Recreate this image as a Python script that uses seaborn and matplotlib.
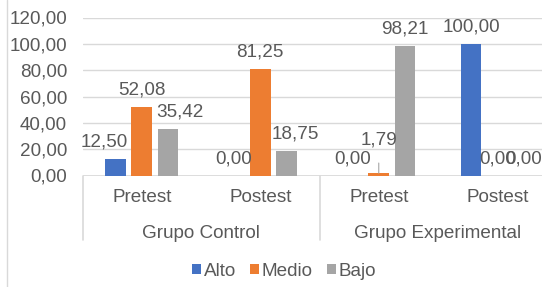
import matplotlib
matplotlib.use('Agg')
import matplotlib.pyplot as plt
import matplotlib.transforms as mtransforms
from matplotlib.lines import Line2D
from matplotlib.patches import Patch
import seaborn as sns
import pandas as pd

# ---- data ----
grupos = ['Grupo Control', 'Grupo Control', 'Grupo Experimental', 'Grupo Experimental']
momentos = ['Pretest', 'Postest', 'Pretest', 'Postest']
niveles = ['Alto', 'Medio', 'Bajo']
alto = [12.50, 0.00, 0.00, 100.00]
medio = [52.08, 81.25, 1.79, 0.00]
bajo = [35.42, 18.75, 98.21, 0.00]
yticks = [0, 20, 40, 60, 80, 100, 120]

# ---- styles ----
colores = ['#4472C4', '#ED7D31', '#A5A5A5']
txt = '#595959'
grid = '#D9D9D9'
FS = 13.6

cats = [f'{g}|{m}' for g, m in zip(grupos, momentos)]
rows = []
for nivel, vals in zip(niveles, [alto, medio, bajo]):
    for c, v in zip(cats, vals):
        rows.append({'cat': c, 'nivel': nivel, 'valor': v})
df = pd.DataFrame(rows)

sns.set_theme(style='white')
plt.rcParams['font.family'] = ['Liberation Sans', 'DejaVu Sans']

W, H = 542, 287
fig = plt.figure(figsize=(W / 100, H / 100), dpi=100)
fig.patch.set_facecolor('white')
left, right, bottom, top = 82.5, 556.5, 175.5, 17.5
ax = fig.add_axes([left / W, 1 - bottom / H, (right - left) / W, (bottom - top) / H])

sns.barplot(data=df, x='cat', y='valor', hue='nivel', order=cats, hue_order=niveles,
            palette=colores, width=0.666, gap=0.22, ax=ax, legend=False,
            linewidth=0, errorbar=None, saturation=1)

ax.set_xlim(-0.5, 3.5)
ax.set_ylim(0, 120)
ax.set_yticks(yticks)
ax.set_yticklabels([f'{v:.2f}'.replace('.', ',') for v in yticks], fontsize=FS, color=txt)
ax.yaxis.grid(True, color=grid, linewidth=1.0)
ax.set_axisbelow(True)
for s in ax.spines.values():
    s.set_visible(False)
ax.axhline(0, color=grid, linewidth=1.2, zorder=0.5)
ax.tick_params(axis='y', length=0, pad=11)
ax.tick_params(axis='x', length=0, pad=10)
ax.set_xticks(range(len(cats)))
ax.set_xticklabels(momentos, fontsize=FS, color=txt)
ax.set_xlabel('')
ax.set_ylabel('')

# group labels and separators
tr = mtransforms.blended_transform_factory(ax.transData, fig.transFigure)
ug = []
for g in grupos:
    if g not in ug:
        ug.append(g)
for g in ug:
    idx = [i for i, gg in enumerate(grupos) if gg == g]
    xc = sum(idx) / len(idx)
    fig.text(xc, 1 - 233 / H, g, transform=tr, fontsize=FS, color=txt,
             ha='center', va='center')
bounds = [-0.5]
for i in range(1, len(grupos)):
    if grupos[i] != grupos[i - 1]:
        bounds.append(i - 0.5)
bounds.append(len(grupos) - 0.5)
for b in bounds:
    fig.add_artist(Line2D([b, b], [1 - bottom / H, 1 - 240 / H], transform=tr,
                          color=grid, linewidth=1.2))

# data labels
# label x-offsets (pixels), mimicking Excel's overlap avoidance
dx = {('Alto', 0): -11.5, ('Bajo', 0): 12, ('Bajo', 1): 9}
for hi, (nivel, vals) in enumerate(zip(niveles, [alto, medio, bajo])):
    cont = ax.containers[hi]
    for ci, (bar, v) in enumerate(zip(cont, vals)):
        xb = bar.get_x() + bar.get_width() / 2
        lab = f'{v:.2f}'.replace('.', ',')
        if nivel == 'Medio' and 0 < v < 5:
            ax.annotate(lab, xy=(xb, v), xytext=(0, 33), textcoords='offset pixels',
                        ha='center', va='center', fontsize=FS, color=txt,
                        arrowprops=dict(arrowstyle='-', color='#A6A6A6', lw=0.8,
                                        shrinkA=8, shrinkB=0))
        else:
            ax.annotate(lab, xy=(xb, v), xytext=(dx.get((nivel, ci), 0), 17),
                        textcoords='offset pixels', ha='center', va='center',
                        fontsize=FS, color=txt)

# legend
handles = [Patch(facecolor=c, edgecolor='none') for c in colores]
fig.legend(handles, niveles, loc='center', bbox_to_anchor=(284 / W, 1 - 271 / H),
           ncol=3, frameon=False, fontsize=FS, labelcolor=txt,
           handlelength=0.48, handleheight=0.48, handletextpad=0.15, columnspacing=0.75,
           borderpad=0.2)

# chart area border (left edge visible)
fig.add_artist(Line2D([7.3 / W, 7.3 / W], [0, 1], transform=fig.transFigure,
                      color=grid, linewidth=1.0))

fig.savefig('out.png', dpi=100)
